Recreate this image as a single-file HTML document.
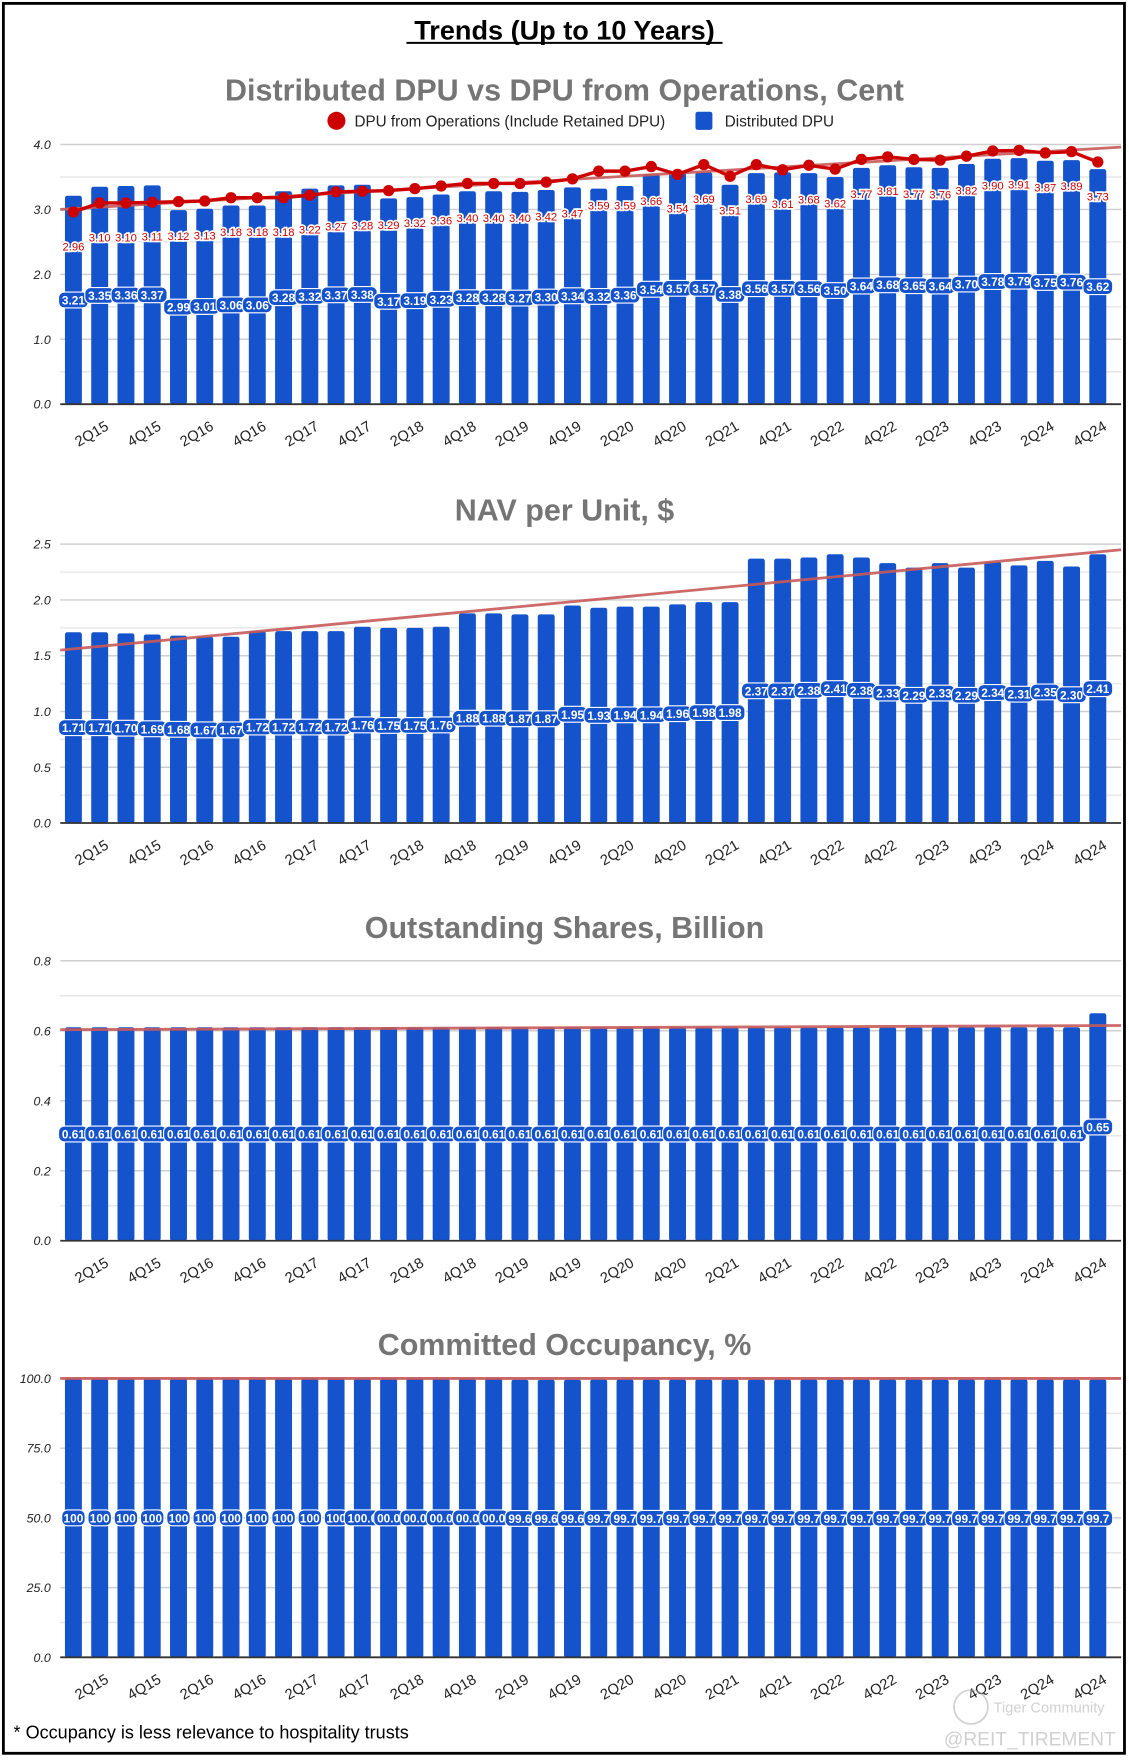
<!DOCTYPE html>
<html><head><meta charset="utf-8">
<style>
html,body{margin:0;padding:0;background:#fff;}
svg{display:block;}
text{font-family:"Liberation Sans",sans-serif;}
</style></head>
<body>
<svg id="root" width="1129" height="1763" viewBox="0 0 1000 1561.6" preserveAspectRatio="none" xmlns="http://www.w3.org/2000/svg">
<rect x="3" y="3" width="993" height="1550" fill="#fff" stroke="#000" stroke-width="2.5"/>
<text x="500" y="35" text-anchor="middle" font-size="24" font-weight="bold" fill="#000">Trends (Up to 10 Years)</text>
<line x1="360" y1="38" x2="640" y2="38" stroke="#000" stroke-width="1.8"/>
<g id="charts"></g>
<text x="12" y="1540" font-size="16" fill="#000">* Occupancy is less relevance to hospitality trusts</text>
<g opacity="0.55">
<circle cx="860" cy="1512" r="15" fill="none" stroke="#aaa" stroke-width="1.5"/>
<text x="880" y="1517" font-size="13" fill="#aaa">Tiger Community</text>
<text x="836" y="1546" font-size="17" fill="#aaa">@REIT_TIREMENT</text>
</g>
</svg>
<script>
const quarters = ["1Q15","2Q15","3Q15","4Q15","1Q16","2Q16","3Q16","4Q16","1Q17","2Q17","3Q17","4Q17","1Q18","2Q18","3Q18","4Q18","1Q19","2Q19","3Q19","4Q19","1Q20","2Q20","3Q20","4Q20","1Q21","2Q21","3Q21","4Q21","1Q22","2Q22","3Q22","4Q22","1Q23","2Q23","3Q23","4Q23","1Q24","2Q24","3Q24","4Q24"];
const distributedDpu = [3.21,3.35,3.36,3.37,2.99,3.01,3.06,3.06,3.28,3.32,3.37,3.38,3.17,3.19,3.23,3.28,3.28,3.27,3.30,3.34,3.32,3.36,3.54,3.57,3.57,3.38,3.56,3.57,3.56,3.50,3.64,3.68,3.65,3.64,3.70,3.78,3.79,3.75,3.76,3.62];
const opsDpu = [2.96,3.10,3.10,3.11,3.12,3.13,3.18,3.18,3.18,3.22,3.27,3.28,3.29,3.32,3.36,3.40,3.40,3.40,3.42,3.47,3.59,3.59,3.66,3.54,3.69,3.51,3.69,3.61,3.68,3.62,3.77,3.81,3.77,3.76,3.82,3.90,3.91,3.87,3.89,3.73];
const navPerUnit = [1.71,1.71,1.70,1.69,1.68,1.67,1.67,1.72,1.72,1.72,1.72,1.76,1.75,1.75,1.76,1.88,1.88,1.87,1.87,1.95,1.93,1.94,1.94,1.96,1.98,1.98,2.37,2.37,2.38,2.41,2.38,2.33,2.29,2.33,2.29,2.34,2.31,2.35,2.30,2.41];
const sharesBn = [0.61,0.61,0.61,0.61,0.61,0.61,0.61,0.61,0.61,0.61,0.61,0.61,0.61,0.61,0.61,0.61,0.61,0.61,0.61,0.61,0.61,0.61,0.61,0.61,0.61,0.61,0.61,0.61,0.61,0.61,0.61,0.61,0.61,0.61,0.61,0.61,0.61,0.61,0.61,0.65];
const occupancy = [100,100,100,100,100,100,100,100,100,100,100,100.0,100.0,100.0,100.0,100.0,100.0,99.6,99.6,99.6,99.7,99.7,99.7,99.7,99.7,99.7,99.7,99.7,99.7,99.7,99.7,99.7,99.7,99.7,99.7,99.7,99.7,99.7,99.7,99.7];
const occLabels = ["100","100","100","100","100","100","100","100","100","100","100","100.0","00.0","00.0","00.0","00.0","00.0","99.6","99.6","99.6","99.7","99.7","99.7","99.7","99.7","99.7","99.7","99.7","99.7","99.7","99.7","99.7","99.7","99.7","99.7","99.7","99.7","99.7","99.7","99.7"];
const dpuTicks = [0,1,2,3,4];
const navTicks = [0,0.5,1,1.5,2,2.5];
const shareTicks = [0,0.2,0.4,0.6,0.8];
const occTicks = [0,25,50,75,100];
const dpuTrend = [3.0,3.96];
const navTrend = [1.55,2.45];
const shareTrend = [0.603,0.615];
const occTrend = [100,100];

const NS="http://www.w3.org/2000/svg";
const root=document.getElementById('charts');
function mk(tag,attrs,parent){const e=document.createElementNS(NS,tag);for(const k in attrs)e.setAttribute(k,attrs[k]);(parent||root).appendChild(e);return e;}
const X0=53.4, X1=984, STEP=(X1-X0)/40, BW=15;
function xc(i){return X0+STEP*(i+0.5);}

function chart(o){
  const g=mk('g',{});
  
  
  const y=v=>o.y0-(v-o.min)/(o.max-o.min)*(o.y0-o.yTop);
  const t=mk('text',{x:500,y:o.titleY,'text-anchor':'middle','font-size':27,'font-weight':'bold',fill:'#757575'},g);
  t.textContent=o.title;
  
  
  for(let k=0;k<o.ticks.length-1;k++){
    const mv=(o.ticks[k]+o.ticks[k+1])/2;
    const ml=mk('line',{x1:X0,x2:993,y1:y(mv),y2:y(mv),stroke:'#e6e6e6','stroke-width':1.3},g);
    
    
  }
  o.ticks.forEach(v=>{
    const l=mk('line',{x1:X0,x2:993,y1:y(v),y2:y(v),stroke:'#cfcfcf','stroke-width':1.3},g);
    
    
    const tx=mk('text',{x:45,y:y(v)+4,'text-anchor':'end','font-size':11,'font-style':'italic',fill:'#222'},g);
    tx.textContent=v.toFixed(o.dec);
    
    
  });
  o.vals.forEach((v,i)=>{
    const r=mk('rect',{x:xc(i)-BW/2,y:y(v),width:BW,height:o.y0-y(v),fill:'#1553cc',rx:2},g);
    
    
  });
  const ax=mk('line',{x1:X0,x2:993,y1:o.y0,y2:o.y0,stroke:'#333','stroke-width':1.6},g);
  
  
  const tr=mk('line',{x1:X0,x2:993,y1:y(o.trend[0]),y2:y(o.trend[1]),stroke:'#c85a5a','stroke-width':2.5,opacity:0.9},g);
  
  
  if(o.line){
    const pts=o.line.map((v,i)=>xc(i)+','+y(v)).join(' ');
    const pl=mk('polyline',{points:pts,fill:'none',stroke:'#cc0000','stroke-width':3},g);
    
    
    o.line.forEach((v,i)=>{
      const c=mk('circle',{cx:xc(i),cy:y(v),r:5,fill:'#cc0000'},g);
      
      
      const lt=mk('text',{x:xc(i),y:y(v)+34,'text-anchor':'middle','font-size':10,fill:'#cc0000',stroke:'#fff','stroke-width':3,'paint-order':'stroke'},g);
      lt.textContent=v.toFixed(2);
      
      
    });
  }
  o.vals.forEach((v,i)=>{
    const txt=o.labels?o.labels[i]:v.toFixed(o.ldec);
    const w=txt.length*5.6+4;
    const cy=(y(v)+o.y0)/2;
    const b=mk('rect',{x:xc(i)-w/2,y:cy-7,width:w,height:14,rx:5,fill:'#1553cc',stroke:'#fff','stroke-width':1},g);
    
    
    const lt=mk('text',{x:xc(i),y:cy+4,'text-anchor':'middle','font-size':10.5,'font-weight':'bold',fill:'#fff'},g);
    lt.textContent=txt;
    
    
  });
  quarters.forEach((q,i)=>{
    if(i%2!==1)return;
    const cx=xc(i)-5, cy=o.y0+30;
    const xl=mk('text',{x:cx,y:cy,'text-anchor':'middle','font-size':13,fill:'#222',transform:'rotate(-30 '+cx+' '+cy+')'},g);
    xl.textContent=q;
    
    
  });
}

chart({name:'dpu-chart',title:'Distributed DPU vs DPU from Operations, Cent',titleY:89,y0:358,yTop:128,min:0,max:4,ticks:dpuTicks,dec:1,vals:distributedDpu,ldec:2,line:opsDpu,trend:dpuTrend});
chart({name:'nav-chart',title:'NAV per Unit, $',titleY:461,y0:729,yTop:482,min:0,max:2.5,ticks:navTicks,dec:1,vals:navPerUnit,ldec:2,trend:navTrend});
chart({name:'shares-chart',title:'Outstanding Shares, Billion',titleY:831,y0:1099,yTop:851,min:0,max:0.8,ticks:shareTicks,dec:1,vals:sharesBn,ldec:2,trend:shareTrend});
chart({name:'occupancy-chart',title:'Committed Occupancy, %',titleY:1200,y0:1468,yTop:1221,min:0,max:100,ticks:occTicks,dec:1,vals:occupancy,labels:occLabels,trend:occTrend});

const lg=mk('g',{});


const lc=mk('circle',{cx:298,cy:107,r:8,fill:'#cc0000'},lg);


const lt1=mk('text',{x:314,y:112,'font-size':13.5,fill:'#222'},lg);
lt1.textContent='DPU from Operations (Include Retained DPU)';


const ls=mk('rect',{x:616,y:99,width:15,height:16,rx:2,fill:'#1553cc'},lg);


const lt2=mk('text',{x:642,y:112,'font-size':13.5,fill:'#222'},lg);
lt2.textContent='Distributed DPU';


</script>
</body></html>
